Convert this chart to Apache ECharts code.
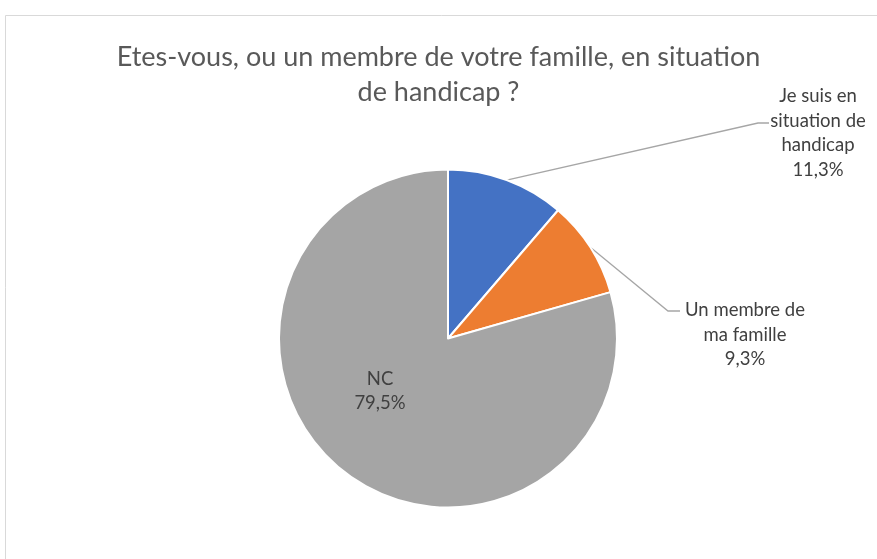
<!DOCTYPE html>
<html>
<head>
<meta charset="utf-8">
<script src="https://cdn.jsdelivr.net/npm/echarts@6/dist/echarts.min.js"></script>
<style>
  html, body { margin: 0; padding: 0; background: #fff; }
  #chart { width: 877px; height: 559px; }
</style>
</head>
<body>
<div id="chart"></div>
<script>
const categories = ['Je suis en\nsituation de\nhandicap', 'Un membre de\nma famille', 'NC']
const shares = [11.3, 9.3, 79.5]
const sliceColors = ['#4472C4', '#ED7D31', '#A5A5A5']

// where Excel put the labels (centre of each text block) and the elbow of the leader lines
const labelSpots = [
  { x: 818, y: 133, elbow: [758, 123], end: [769, 123] },
  { x: 745, y: 335, elbow: [668, 311], end: [680, 311] },
  { x: 380, y: 391 },
]

const chart = echarts.init(document.getElementById('chart'))
const font = 'Lato, "Liberation Sans", sans-serif'

const option = {
  backgroundColor: '#fff',
  animation: false,
  title: {
    text: 'Etes-vous, ou un membre de votre famille, en situation\nde handicap ?',
    left: 'center',
    top: 35,
    textStyle: {
      fontFamily: font,
      fontSize: 27,
      fontWeight: 'normal',
      color: '#595959',
      lineHeight: 35,
      align: 'center',
    },
  },
  graphic: [
    {
      type: 'rect',
      shape: { x: 5.5, y: 15.5, width: 900, height: 600 },
      style: { fill: 'none', stroke: '#d9d9d9', lineWidth: 1 },
      silent: true,
    },
  ],
  series: [
    {
      type: 'pie',
      center: [448, 338.5],
      radius: [0, 169],
      startAngle: 90,
      clockwise: true,
      avoidLabelOverlap: false,
      itemStyle: { borderColor: '#fff', borderWidth: 2 },
      label: {
        show: true,
        position: 'outside',
        fontFamily: font,
        fontSize: 18.5,
        lineHeight: 24.5,
        color: '#404040',
        align: 'center',
        formatter: (p) => p.name + '\n' + p.value.toFixed(1).replace('.', ',') + '%',
      },
      labelLine: {
        show: true,
        length: 20,
        length2: 10,
        lineStyle: { color: '#a6a6a6', width: 1.3 },
      },
      labelLayout: (params) => {
        const spot = labelSpots[params.dataIndex]
        const out = { x: spot.x, y: spot.y, align: 'center', verticalAlign: 'middle' }
        if (spot.elbow && params.labelLinePoints) {
          out.labelLinePoints = [params.labelLinePoints[0], spot.elbow, spot.end]
        }
        return out
      },
      emphasis: { disabled: true },
      data: categories.map((name, i) => ({
        name,
        value: shares[i],
        itemStyle: { color: sliceColors[i] },
        label: i === 2 ? { position: 'inside' } : undefined,
        labelLine: i === 2 ? { show: false } : undefined,
      })),
    },
  ],
}
option && chart.setOption(option)
</script>
</body>
</html>
